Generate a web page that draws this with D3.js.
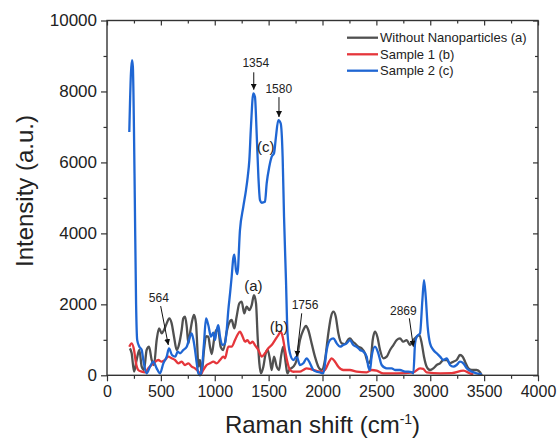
<!DOCTYPE html>
<html>
<head>
<meta charset="utf-8">
<script src="https://cdn.jsdelivr.net/npm/d3@7"></script>
<style>
  html, body { margin: 0; padding: 0; background: #fff; }
  svg { display: block; font-family: "Liberation Sans", Arial, sans-serif; }
</style>
</head>
<body>
<svg id="chart" width="558" height="441"></svg>
<script>
// ---------- data ----------
const seriesNames = ["Without Nanoparticles (a)", "Sample 1 (b)", "Sample 2 (c)"];
const seriesColors = ["#505050", "#e5363b", "#1f66d3"];

const shiftA = [213,229,251,275,300,322,343,368,390,415,436,461,483,508,529,554,578,600,622,647,671,693,708,724,740,755,770,792,807,826,838,848,863,879,900,919,940,956,972,993,1012,1033,1055,1080,1111,1132,1157,1182,1203,1228,1250,1274,1296,1321,1343,1364,1383,1398,1414,1429,1451,1473,1491,1513,1528,1550,1575,1597,1615,1636,1659,1674,1692,1710,1729,1760,1791,1822,1847,1868,1899,1930,1961,1992,2023,2054,2079,2101,2123,2147,2178,2209,2240,2255,2280,2301,2332,2363,2394,2425,2447,2466,2487,2509,2534,2565,2596,2627,2658,2689,2719,2750,2781,2812,2843,2874,2899,2921,2942,2967,2998,3029,3060,3091,3122,3153,3183,3214,3245,3276,3301,3323,3354,3385,3431,3462,3478];
const intensityA = [760,620,103,431,713,244,150,713,806,431,290,994,1323,1183,1276,1464,1605,1464,1088,713,900,1276,1605,1650,1370,900,1183,1558,1699,1464,806,244,431,56,700,1100,1088,806,600,994,1276,1250,806,713,1229,1464,1558,1323,1651,2028,2075,1746,1933,1839,1980,2262,2028,1088,338,56,244,620,713,431,150,525,244,150,525,806,338,56,150,200,244,431,994,1276,1389,1276,900,525,244,150,431,1183,1651,1792,1651,1183,900,880,1014,1042,948,900,806,760,620,338,431,994,1229,1088,713,479,525,713,853,994,1042,947,994,853,994,1088,1135,900,525,244,150,197,290,338,431,431,338,384,431,572,525,384,197,150,150,85,0];

const shiftB = [207,229,251,269,290,322,353,383,430,476,507,538,569,600,631,662,693,724,755,786,817,848,869,894,925,956,987,1018,1049,1080,1095,1126,1157,1188,1210,1234,1259,1281,1303,1327,1352,1373,1405,1436,1466,1497,1528,1559,1590,1612,1630,1652,1677,1698,1729,1760,1791,1822,1853,1884,1915,1950,1992,2023,2054,2085,2116,2147,2193,2255,2317,2410,2456,2503,2565,2689,2843,2905,2935,2967,3091,3200,3307,3369,3400];
const intensityB = [806,900,713,338,150,103,85,197,338,431,384,431,525,479,431,338,384,290,338,244,197,103,30,150,290,338,384,338,431,525,480,806,806,994,1135,1229,1088,947,994,900,947,853,713,525,620,760,853,994,1135,1229,1088,713,338,150,100,103,103,150,197,180,150,120,103,150,338,479,384,244,150,150,103,85,150,130,56,56,85,197,180,85,56,60,130,56,30];

const shiftC = [207,222,232,240,250,258,270,280,300,322,337,368,399,430,461,492,523,554,575,603,634,656,678,708,740,764,786,802,817,833,848,863,879,900,919,940,965,986,1002,1018,1033,1049,1070,1095,1111,1126,1142,1157,1172,1182,1197,1210,1234,1265,1290,1306,1321,1336,1358,1373,1389,1405,1420,1436,1466,1482,1506,1528,1550,1568,1590,1612,1630,1643,1661,1675,1698,1729,1760,1791,1822,1853,1884,1915,1946,1977,2008,2039,2070,2101,2132,2162,2193,2224,2255,2286,2317,2348,2379,2410,2425,2441,2456,2487,2518,2549,2596,2642,2673,2719,2766,2797,2828,2843,2859,2874,2905,2927,2942,2958,2976,2998,3029,3060,3091,3122,3153,3183,3214,3245,3276,3307,3338,3385,3431,3478];
const intensityC = [6860,8500,8880,8700,7000,5000,2000,1000,806,713,431,56,244,384,197,56,338,525,760,572,525,666,620,713,806,1042,1183,1000,713,338,56,0,150,900,1605,1417,1088,1200,994,1276,1417,1088,853,900,1276,1839,2310,2778,3300,3400,2966,2850,4093,4750,5220,5595,6065,7004,7944,7850,6817,5595,4938,4863,4891,5408,5877,6158,6254,6722,7192,7099,6158,4468,2685,1200,620,431,525,290,338,479,338,150,100,80,56,713,994,1042,900,806,853,900,994,853,806,713,666,525,244,150,525,806,620,290,197,197,150,150,103,103,85,56,900,1088,1183,2121,2685,2215,1370,900,713,620,525,431,479,290,244,290,384,338,197,103,56,30];

const xMajorTicks = [0,500,1000,1500,2000,2500,3000,3500,4000];
const xMinorTicks = [250,750,1250,1750,2250,2750,3250,3750];
const yMajorTicks = [0,2000,4000,6000,8000,10000];
const yMinorTicks = [1000,3000,5000,7000,9000];

// peak annotations: label, text x, text y (baseline), arrow start x,y, arrow end x,y
const peakLabels = ["1354","1580","564","1756","2869"];
const peakTextX  = [1381,1594,481,1838,2750];
const peakTextY  = [8693,7944,2056,1859,1699];
const arrowX0 = [1362,1596,498,1807,2806];
const arrowY0 = [8540,7840,1952,1747,1606];
const arrowX1 = [1362,1596,569,1761,2843];
const arrowY1 = [8050,7280,854,524,806];

const curveLabels = ["(a)","(b)","(c)"];
const curveLabelX = [1358,1596,1474];
const curveLabelY = [2383,1220,6290];

// ---------- drawing ----------
const svg = d3.select("#chart");
const L = 107, R = 538, T = 20.5, B = 375.3;
const x = d3.scaleLinear().domain([0, 4000]).range([L, R]);
const y = d3.scaleLinear().domain([0, 10000]).range([B, T]);

const axisColor = "#333";
const tickFont = "Liberation Sans, Arial, sans-serif";

// curves
const series = [
  {xs: shiftA, ys: intensityA, c: seriesColors[0]},
  {xs: shiftB, ys: intensityB, c: seriesColors[1]},
  {xs: shiftC, ys: intensityC, c: seriesColors[2]}
];
const line = d3.line().x(d => x(d[0])).y(d => y(d[1])).curve(d3.curveMonotoneX);
series.forEach(s => {
  const pts = s.xs.map((v, i) => [v, s.ys[i]]);
  svg.append("path").datum(pts)
    .attr("fill", "none").attr("stroke", s.c)
    .attr("stroke-width", 2.3).attr("stroke-linejoin", "round")
    .attr("d", line);
});

// axes
function styleAxis(g) {
  g.select(".domain").remove();
  g.selectAll(".tick line").attr("stroke", axisColor).attr("stroke-width", 1.2);
  g.selectAll(".tick text").attr("fill", "#222").attr("font-family", tickFont);
}
// bottom
svg.append("g").attr("transform", `translate(0,${B})`)
  .call(d3.axisBottom(x).tickValues(xMajorTicks).tickSize(6).tickPadding(4).tickFormat(d3.format("d")))
  .call(styleAxis)
  .call(g => g.selectAll(".tick text").attr("font-size", 16));
svg.append("g").attr("transform", `translate(0,${B})`)
  .call(d3.axisBottom(x).tickValues(xMinorTicks).tickSize(3.5).tickFormat(""))
  .call(styleAxis);
// left
svg.append("g").attr("transform", `translate(${L},0)`)
  .call(d3.axisLeft(y).tickValues(yMajorTicks).tickSize(6).tickPadding(4).tickFormat(d3.format("d")))
  .call(styleAxis)
  .call(g => g.selectAll(".tick text").attr("font-size", 17));
svg.append("g").attr("transform", `translate(${L},0)`)
  .call(d3.axisLeft(y).tickValues(yMinorTicks).tickSize(3.5).tickFormat(""))
  .call(styleAxis);
// top (ticks inward)
svg.append("g").attr("transform", `translate(0,${T})`)
  .call(d3.axisBottom(x).tickValues(xMajorTicks).tickSize(5).tickFormat(""))
  .call(styleAxis);
svg.append("g").attr("transform", `translate(0,${T})`)
  .call(d3.axisBottom(x).tickValues(xMinorTicks).tickSize(3).tickFormat(""))
  .call(styleAxis);
// right (ticks inward)
svg.append("g").attr("transform", `translate(${R},0)`)
  .call(d3.axisLeft(y).tickValues(yMajorTicks).tickSize(5).tickFormat(""))
  .call(styleAxis);
svg.append("g").attr("transform", `translate(${R},0)`)
  .call(d3.axisLeft(y).tickValues(yMinorTicks).tickSize(3).tickFormat(""))
  .call(styleAxis);

// frame
svg.append("rect").attr("x", L).attr("y", T).attr("width", R - L).attr("height", B - T)
  .attr("fill", "none").attr("stroke", axisColor).attr("stroke-width", 1.4);

// axis titles
const xt = svg.append("text").attr("x", (L + R) / 2).attr("y", 433)
  .attr("text-anchor", "middle").attr("font-size", 24).attr("fill", "#222");
xt.append("tspan").text("Raman shift (cm");
xt.append("tspan").attr("font-size", 14).attr("dy", -9).text("-1");
xt.append("tspan").attr("dy", 9).text(")");

svg.append("text").attr("transform", "translate(33,191) rotate(-90)")
  .attr("text-anchor", "middle").attr("font-size", 24).attr("fill", "#222")
  .text("Intensity (a.u.)");

// legend
const legY = [37.7, 54.3, 70.7];
seriesNames.forEach((n, i) => {
  svg.append("line").attr("x1", 347).attr("x2", 378).attr("y1", legY[i]).attr("y2", legY[i])
    .attr("stroke", seriesColors[i]).attr("stroke-width", 2.3);
  svg.append("text").attr("x", 380).attr("y", legY[i]).attr("dy", "0.35em")
    .attr("font-size", 13).attr("fill", "#222").text(n);
});

// arrow marker
svg.append("defs").append("marker").attr("id", "ah")
  .attr("viewBox", "0 0 10 10").attr("refX", 10).attr("refY", 5)
  .attr("markerWidth", 6).attr("markerHeight", 6).attr("markerUnits", "userSpaceOnUse")
  .attr("orient", "auto")
  .append("path").attr("d", "M0,0 L10,5 L0,10 Z").attr("fill", "#111");

// peak annotations
peakLabels.forEach((t, i) => {
  svg.append("text").attr("x", x(peakTextX[i])).attr("y", y(peakTextY[i]))
    .attr("text-anchor", "middle").attr("font-size", 12).attr("fill", "#222").text(t);
  svg.append("line")
    .attr("x1", x(arrowX0[i])).attr("y1", y(arrowY0[i]))
    .attr("x2", x(arrowX1[i])).attr("y2", y(arrowY1[i]))
    .attr("stroke", "#111").attr("stroke-width", 1).attr("marker-end", "url(#ah)");
});
curveLabels.forEach((t, i) => {
  svg.append("text").attr("x", x(curveLabelX[i])).attr("y", y(curveLabelY[i]))
    .attr("text-anchor", "middle").attr("font-size", 15).attr("fill", "#222").text(t);
});
</script>
</body>
</html>
